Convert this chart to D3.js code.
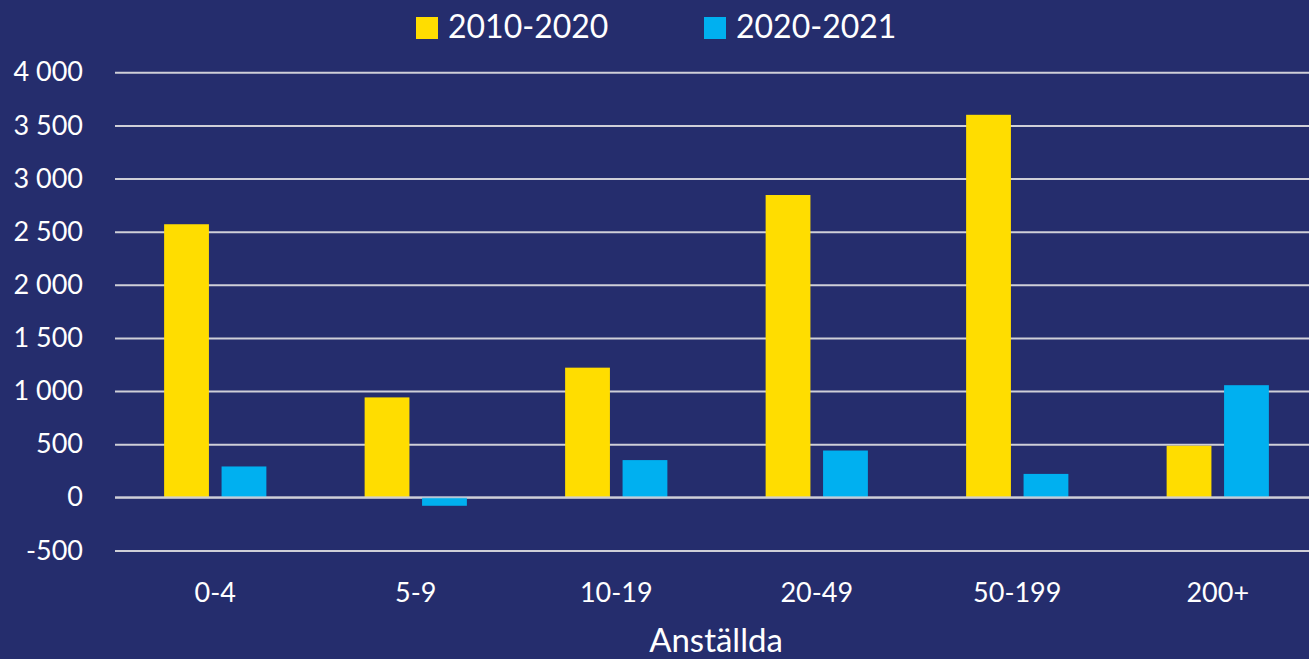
<!DOCTYPE html>
<html>
<head>
<meta charset="utf-8">
<script src="https://cdn.jsdelivr.net/npm/d3@7"></script>
<style>
  html, body { margin: 0; padding: 0; background: #252d6d; }
  svg { display: block; }
  text { font-family: Lato, "Open Sans", sans-serif; fill: #ffffff; }
</style>
</head>
<body>
<svg id="chart" width="1309" height="659"></svg>
<script>
const categories = ["0-4", "5-9", "10-19", "20-49", "50-199", "200+"];
const seriesNames = ["2010-2020", "2020-2021"];
const values2010_2020 = [2570, 940, 1220, 2845, 3600, 485];
const values2020_2021 = [290, -80, 350, 440, 220, 1055];
const yTicks = [-500, 0, 500, 1000, 1500, 2000, 2500, 3000, 3500, 4000];
const colors = ["#ffdd00", "#00b0f0"];

const svg = d3.select("#chart");
const W = 1309, H = 659;
svg.append("rect").attr("width", W).attr("height", H).attr("fill", "#252d6d");

const plotLeft = 115, plotRight = 1318;
const y = d3.scaleLinear().domain([-500, 4000]).range([550.4, 72.3]);
const x0 = d3.scaleBand().domain(categories).range([plotLeft, plotRight]).paddingInner(0.49).paddingOuter(0.245);
const x1 = d3.scaleBand().domain(seriesNames).range([0, x0.bandwidth()]).paddingInner(0.22);

const fmtTick = v => (v < 0 ? "-" : "") + d3.format(",")(Math.abs(v)).replace(/,/g, " ");

// gridlines via axis
const yAxis = d3.axisLeft(y).tickValues(yTicks).tickSize(-(plotRight - plotLeft)).tickFormat(fmtTick).tickPadding(32);
const gy = svg.append("g").attr("transform", `translate(${plotLeft},0)`).call(yAxis);
gy.select(".domain").remove();
gy.selectAll(".tick line").attr("stroke", "#cfcfd8").attr("stroke-width", 2);
gy.selectAll(".tick text").attr("font-size", 27).attr("fill", "#ffffff")
  .style("font-family", "Lato, 'Open Sans', sans-serif");

// bars
const data = categories.map((c, i) => ({ cat: c, vals: [values2010_2020[i], values2020_2021[i]] }));
const groups = svg.append("g").selectAll("g").data(data).join("g")
  .attr("transform", d => `translate(${x0(d.cat)},0)`);
groups.selectAll("rect").data(d => d.vals.map((v, k) => ({ v, k }))).join("rect")
  .attr("x", d => x1(seriesNames[d.k]))
  .attr("width", x1.bandwidth())
  .attr("y", d => y(Math.max(0, d.v)))
  .attr("height", d => Math.abs(y(d.v) - y(0)))
  .attr("fill", d => colors[d.k]);

// zero line over bars
svg.append("line").attr("x1", plotLeft).attr("x2", plotRight).attr("y1", y(0)).attr("y2", y(0))
  .attr("stroke", "#cfcfd8").attr("stroke-width", 2).attr("opacity", 0.8);

// x axis labels
const xAxis = d3.axisBottom(x0).tickSize(0).tickPadding(0);
const gx = svg.append("g").attr("transform", `translate(0,${593})`).call(xAxis);
gx.select(".domain").remove();
gx.selectAll(".tick text").attr("font-size", 27).attr("fill", "#ffffff").attr("dy", "0.35em")
  .attr("y", 0).style("font-family", "Lato, 'Open Sans', sans-serif");

// axis title
svg.append("text").attr("x", 716).attr("y", 652).attr("text-anchor", "middle")
  .attr("font-size", 33).text("Anställda");

// legend
const legendX = [416, 704];
seriesNames.forEach((name, k) => {
  svg.append("rect").attr("x", legendX[k]).attr("y", 17).attr("width", 22).attr("height", 22).attr("fill", colors[k]);
  svg.append("text").attr("x", legendX[k] + 32).attr("y", 27).attr("dy", "0.35em")
    .attr("font-size", 32).text(name);
});
</script>
</body>
</html>
